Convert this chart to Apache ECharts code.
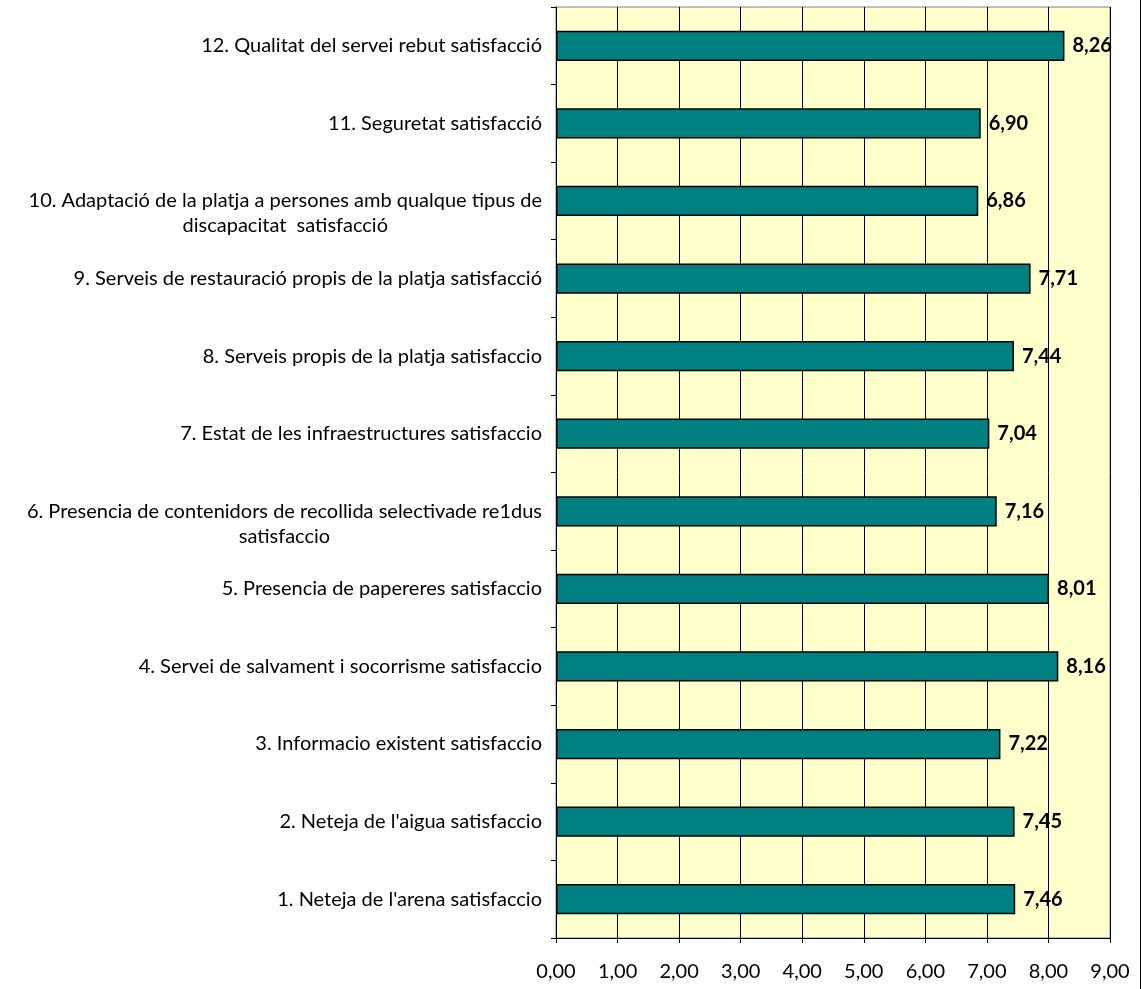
<!DOCTYPE html>
<html>
<head>
<meta charset="utf-8">
<script src="https://cdn.jsdelivr.net/npm/echarts@6/dist/echarts.min.js"></script>
<style>
  html, body { margin: 0; padding: 0; background: #fff; }
  #chart { width: 1142px; height: 989px; }
</style>
</head>
<body>
<div id="chart"></div>
<script>
// categories, bottom to top (ECharts draws first category at bottom)
var categories = [
	"1. Neteja de l'arena satisfaccio",
	"2. Neteja de l'aigua satisfaccio",
	"3. Informacio existent satisfaccio",
	"4. Servei de salvament i socorrisme satisfaccio",
	"5. Presencia de papereres satisfaccio",
	"6. Presencia de contenidors de recollida selectivade re1dus\nsatisfaccio",
	"7. Estat de les infraestructures satisfaccio",
	"8. Serveis propis de la platja satisfaccio",
	"9. Serveis de restauració propis de la platja satisfacció",
	"10. Adaptació de la platja a persones amb qualque tipus de\ndiscapacitat  satisfacció",
	"11. Seguretat satisfacció",
	"12. Qualitat del servei rebut satisfacció"
];
var values = [7.46, 7.45, 7.22, 8.16, 8.01, 7.16, 7.04, 7.44, 7.71, 6.86, 6.90, 8.26];
var xTicks = [0, 1, 2, 3, 4, 5, 6, 7, 8, 9];

var FONT = "Lato";

function fmt (v){
	return v.toFixed(2).replace(".", ",");
}

var myChart = echarts.init(document.getElementById("chart"));
var option = {
	animation: false,
	grid: {
		left: 556,
		right: 32,
		top: 7,
		bottom: 51,
		show: true,
		backgroundColor: '#FFFFCC',
		borderColor: '#808080',
		borderWidth: 1
	},
	xAxis: {
		type: 'value',
		min: xTicks[0],
		max: xTicks[xTicks.length - 1],
		interval: 1,
		axisLine: { show: true, lineStyle: { color: '#000', width: 1 } },
		axisTick: { show: true, length: 5, lineStyle: { color: '#000' } },
		splitLine: { show: true, lineStyle: { color: '#000', width: 1 } },
		axisLabel: {
			margin: 24,
			color: '#000',
			fontSize: 20,
			fontFamily: FONT,
			formatter: function (v) { return fmt(v); }
		}
	},
	yAxis: {
		type: 'category',
		data: categories,
		axisLine: { show: true, lineStyle: { color: '#000', width: 1 } },
		axisTick: { show: true, length: 5, lineStyle: { color: '#000' } },
		splitLine: { show: false },
		axisLabel: {
			margin: 14,
			color: '#000',
			formatter: function (v) {
				var lines = v.split("\n");
				// Excel keeps the first line of a wrapped label on the band centre
				if (lines.length > 1) lines.unshift(" ");
				return lines.map(function (s) { return "{c|" + s + "}"; }).join("\n");
			},
			rich: {
				c: { align: 'center', fontSize: 20, fontFamily: FONT, color: '#000', lineHeight: 25 }
			}
		}
	},
	series: [{
		type: 'bar',
		data: values,
		barWidth: '39%',
		itemStyle: { color: '#008080', borderColor: '#000', borderWidth: 1.5 },
		label: {
			show: true,
			position: 'right',
			distance: 8,
			color: '#000',
			fontWeight: 'bold',
			fontSize: 20,
			fontFamily: FONT,
			formatter: function (p) { return fmt(p.value); }
		}
	}],
	graphic: [{
		type: 'line',
		shape: { x1: 1140.5, y1: 0, x2: 1140.5, y2: 989 },
		style: { stroke: '#000', lineWidth: 1 }
	}]
};
myChart.setOption(option);
</script>
</body>
</html>
